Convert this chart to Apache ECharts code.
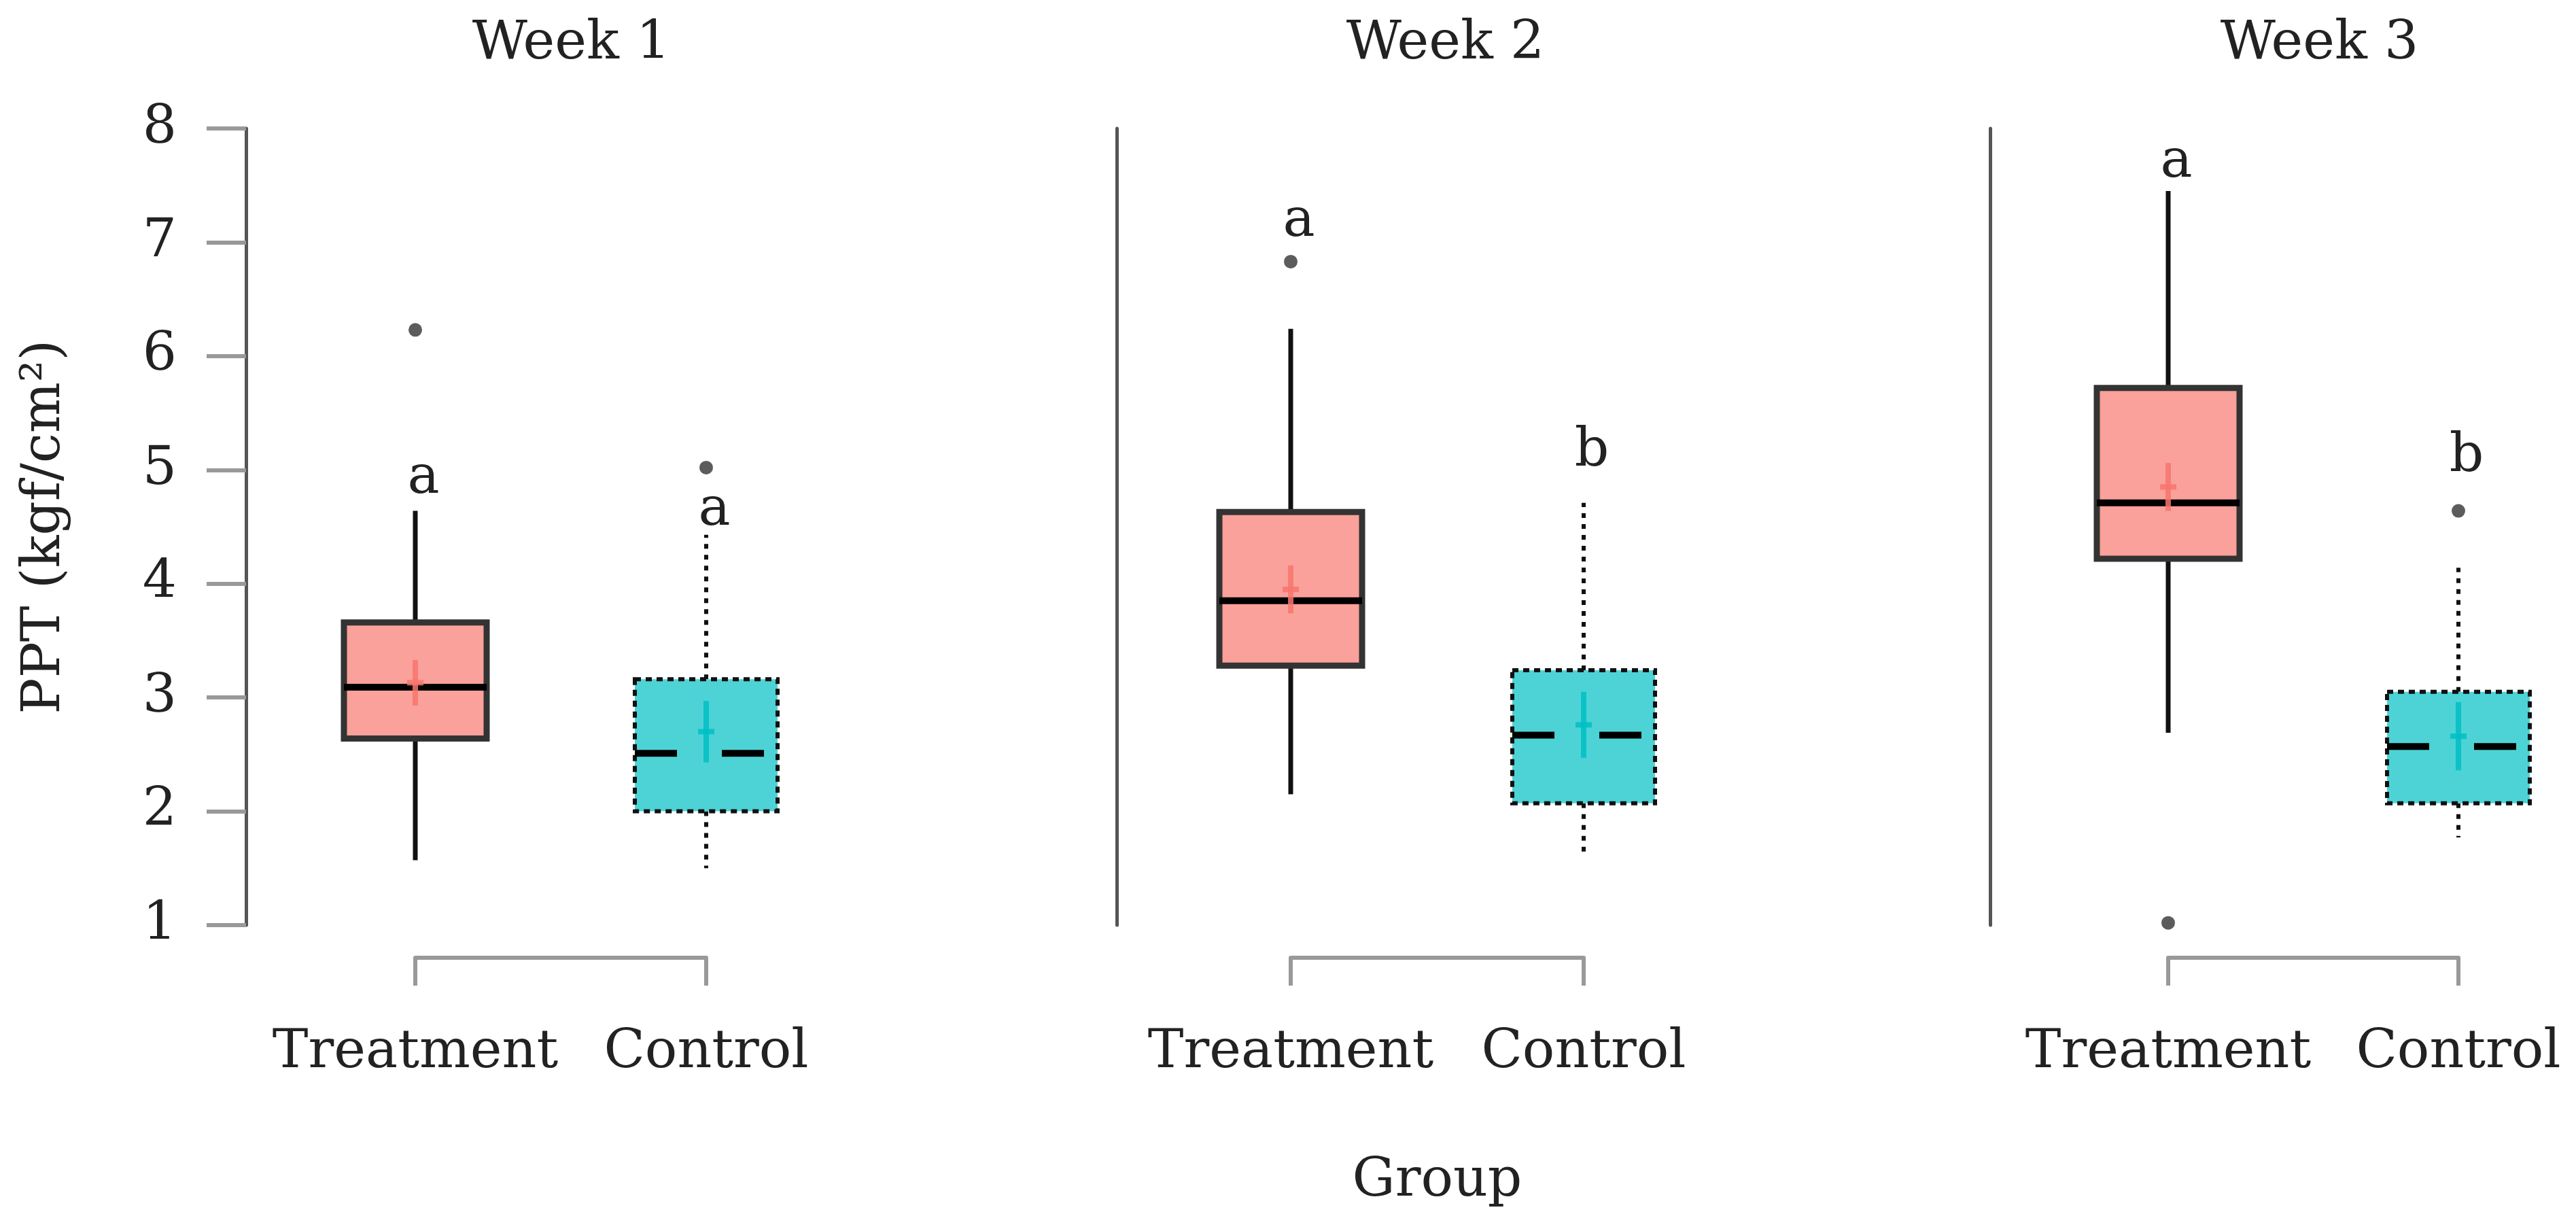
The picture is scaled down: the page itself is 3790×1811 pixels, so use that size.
<!DOCTYPE html>
<html><head><meta charset="utf-8">
<script src="https://cdn.jsdelivr.net/npm/echarts/dist/echarts.min.js"></script>
<style>html,body{margin:0;padding:0;background:#fff}#c{width:3790px;height:1811px}</style>
</head><body><div id="c"></div>
<script>
// ---- data ----
const weeks = ['Week 1', 'Week 2', 'Week 3'];
const groups = ['Treatment', 'Control'];
const yTicks = [1, 2, 3, 4, 5, 6, 7, 8];
// [whisker low, Q1, median, Q3, whisker high]
const treatmentBox = [[1.57, 2.64, 3.09, 3.66, 4.64], [2.15, 3.28, 3.85, 4.63, 6.24], [2.69, 4.22, 4.71, 5.72, 7.45]];
const controlBox = [[1.50, 2.00, 2.51, 3.16, 4.43], [1.62, 2.07, 2.67, 3.24, 4.71], [1.77, 2.07, 2.57, 3.05, 4.14]];
const treatmentMean = [3.13, 3.95, 4.85];
const controlMean = [2.70, 2.76, 2.66];
const treatmentErr = [0.20, 0.21, 0.21];
const controlErr = [0.27, 0.29, 0.30];
const treatmentOutliers = [[6.23], [6.83], [1.02]];
const controlOutliers = [[5.02], [], [4.64]];
const treatmentLetters = ['a', 'a', 'a'];
const controlLetters = ['a', 'b', 'b'];
const treatmentLetterY = [4.92, 7.18, 7.70];
const controlLetterY = [4.64, 5.16, 5.11];
const yName = 'PPT (kgf/cm²)';
const xName = 'Group';

// ---- layout ----
const FONT = 'DejaVu Serif';
const FS = 79;
const TXT = '#222';
const treatX = [611, 1899, 3190];
const ctrlX = [1039, 2330, 3617];
const axisX = [362, 1643, 2928];
const gridTop = 189, gridBottomY = 1361;

function boxRender(params, api) {
  const g = api.value(0);
  const mn = api.value(1), q1 = api.value(2), md = api.value(3), q3 = api.value(4), mx = api.value(5);
  const mean = api.value(6), err = api.value(7);
  const x = api.coord([g, md])[0];
  const y = v => api.coord([g, v])[1];
  const hw = 105;
  const ctl = g === 1;
  const fill = ctl ? '#4DD3D6' : '#F9A19A';
  const ws = ctl ? { stroke: '#111', lineWidth: 6, lineDash: [7, 9] } : { stroke: '#111', lineWidth: 7 };
  const mc = ctl ? 'rgba(0,191,196,0.85)' : 'rgba(248,118,109,0.85)';
  return {
    type: 'group',
    children: [
      { type: 'line', shape: { x1: x, y1: y(q3), x2: x, y2: y(mx) }, style: ws },
      { type: 'line', shape: { x1: x, y1: y(q1), x2: x, y2: y(mn) }, style: ws },
      { type: 'rect', shape: { x: x - hw, y: y(q3), width: 2 * hw, height: y(q1) - y(q3) },
        style: { fill: fill, stroke: ctl ? '#111' : '#333', lineWidth: ctl ? 6 : 9, lineDash: ctl ? [9, 7] : null } },
      { type: 'line', shape: { x1: x - hw, y1: y(md), x2: x + hw, y2: y(md) },
        style: { stroke: '#000', lineWidth: 10, lineDash: ctl ? [62, 66] : null } },
      { type: 'line', shape: { x1: x, y1: y(mean - err), x2: x, y2: y(mean + err) }, style: { stroke: mc, lineWidth: 8 } },
      { type: 'line', shape: { x1: x - 12, y1: y(mean), x2: x + 12, y2: y(mean) }, style: { stroke: mc, lineWidth: 8 } }
    ]
  };
}
function letterRender(params, api) {
  const p = api.coord([api.value(0), api.value(1)]);
  return { type: 'text', x: p[0] + 12, y: p[1],
    style: { text: api.value(2), fill: TXT, font: FS + 'px "' + FONT + '"', align: 'center', verticalAlign: 'middle' } };
}

const grid = [], xAxis = [], yAxis = [], series = [], title = [];
weeks.forEach((w, i) => {
  grid.push({ left: treatX[i], width: ctrlX[i] - treatX[i], top: gridTop, height: gridBottomY - gridTop });
  xAxis.push({
    gridIndex: i, type: 'category', data: groups, boundaryGap: false, position: 'bottom', offset: 48,
    axisLine: { lineStyle: { color: '#999', width: 6 } },
    axisTick: { length: 41, interval: 0, lineStyle: { color: '#999', width: 6 } },
    axisLabel: { interval: 0, hideOverlap: false, margin: 101, color: TXT, fontFamily: FONT, fontSize: FS },
    splitLine: { show: false },
    name: i === 1 ? xName : '', nameLocation: 'middle', nameGap: 290,
    nameTextStyle: { color: TXT, fontFamily: FONT, fontSize: FS }
  });
  yAxis.push({
    gridIndex: i, type: 'value', min: yTicks[0], max: yTicks[yTicks.length - 1], interval: 1,
    offset: treatX[i] - axisX[i],
    axisLine: { show: true, lineStyle: { color: '#555', width: 5 } },
    axisTick: { show: i === 0, length: 58, lineStyle: { color: '#999', width: 6 } },
    axisLabel: { show: i === 0, margin: 102, color: TXT, fontFamily: FONT, fontSize: FS },
    splitLine: { show: false },
    name: i === 0 ? yName : '', nameLocation: 'middle', nameGap: 256, nameRotate: 90,
    nameTextStyle: { color: TXT, fontFamily: FONT, fontSize: FS }
  });
  title.push({ text: w, left: (axisX[i] + ctrlX[i] + 270) / 2, top: 21, textAlign: 'center',
    textStyle: { color: TXT, fontFamily: FONT, fontSize: FS, fontWeight: 'normal' } });
  series.push({
    type: 'custom', xAxisIndex: i, yAxisIndex: i, renderItem: boxRender, clip: false,
    data: [[0, ...treatmentBox[i], treatmentMean[i], treatmentErr[i]], [1, ...controlBox[i], controlMean[i], controlErr[i]]]
  });
  series.push({
    type: 'scatter', xAxisIndex: i, yAxisIndex: i, symbolSize: 20, clip: false, itemStyle: { color: '#333' },
    data: treatmentOutliers[i].map(v => [0, v]).concat(controlOutliers[i].map(v => [1, v]))
  });
  series.push({
    type: 'custom', xAxisIndex: i, yAxisIndex: i, renderItem: letterRender, clip: false,
    data: [[0, treatmentLetterY[i], treatmentLetters[i]], [1, controlLetterY[i], controlLetters[i]]]
  });
});

const chart = echarts.init(document.getElementById('c'));
chart.setOption({ animation: false, backgroundColor: '#fff', title, grid, xAxis, yAxis, series });
</script></body></html>
